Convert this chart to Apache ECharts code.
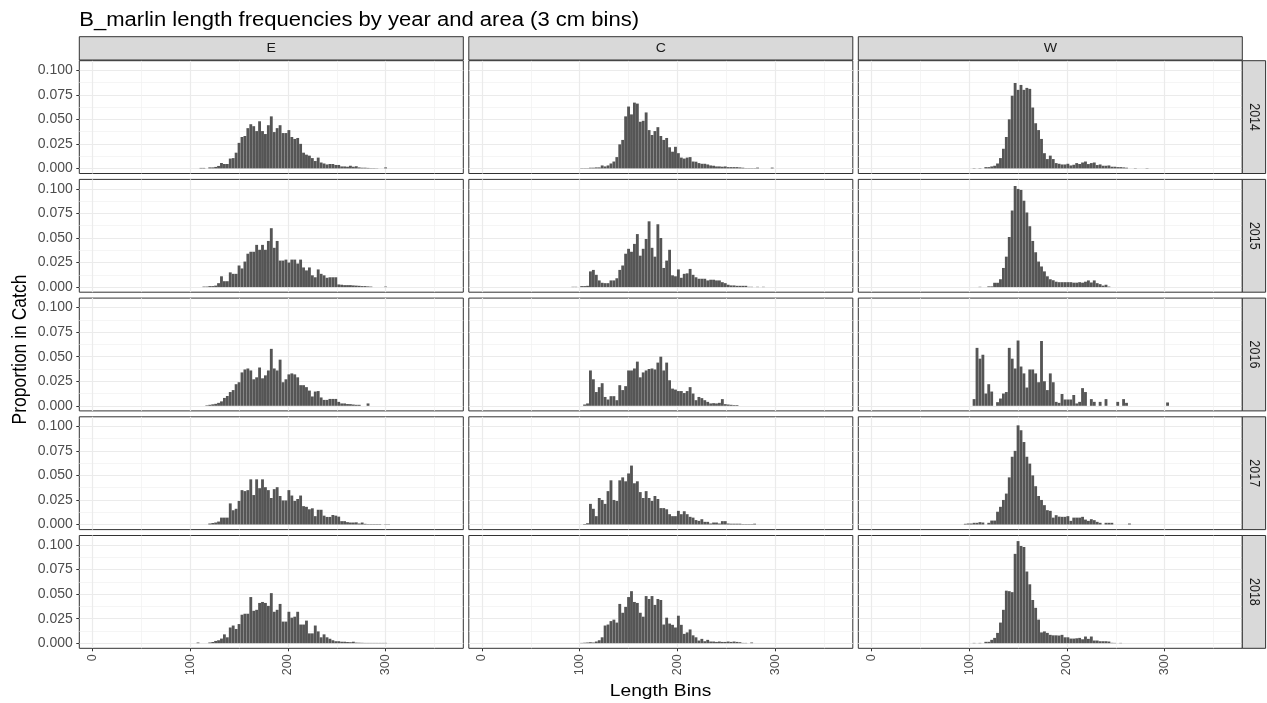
<!DOCTYPE html>
<html>
<head>
<meta charset="utf-8">
<script src="https://cdn.jsdelivr.net/npm/echarts@6/dist/echarts.min.js"></script>
<style>
html,body{margin:0;padding:0;background:#fff;}
#chart{width:1267px;height:703px;}
</style>
</head>
<body>
<div id="chart"></div>
<script>
// ---------------- DATA ----------------
const lengthBins = [90,93,96,99,102,105,108,111,114,117,
  120,123,126,129,132,135,138,141,144,147,
  150,153,156,159,162,165,168,171,174,177,
  180,183,186,189,192,195,198,201,204,207,
  210,213,216,219,222,225,228,231,234,237,
  240,243,246,249,252,255,258,261,264,267,
  270,273,276,279,282,285,288,291,294,297,
  300,303];
const areas = ['E', 'C', 'W'];
const years = ['2014', '2015', '2016', '2017', '2018'];
const yTicks = [0, 0.025, 0.05, 0.075, 0.1];
const yMinorTicks = [0.0125, 0.0375, 0.0625, 0.0875];
const xTicks = [0, 100, 200, 300];
const xMinorTicks = [50, 150, 250, 350];

const E2014 = [0,0,0,0,0,0,0,0.0005,0.0005,0,
  0.001,0.001,0.0015,0.0025,0.0055,0.0045,0.0045,0.010,0.0105,0.016,
  0.026,0.032,0.033,0.041,0.045,0.043,0.038,0.048,0.038,0.035,
  0.044,0.053,0.037,0.041,0.044,0.036,0.036,0.039,0.032,0.030,
  0.031,0.025,0.016,0.014,0.013,0.0105,0.0075,0.011,0.006,0.005,
  0.004,0.0045,0.0045,0.0035,0.0035,0.002,0.002,0.0017,0.0027,0.0017,
  0.0022,0.001,0.0007,0.0007,0.0005,0.0003,0.0003,0.0002,0,0,
  0.001,0];
const E2015 = [0,0,0,0,0,0,0,0,0.0005,0.0005,
  0.001,0.001,0.0015,0.004,0.011,0.006,0.006,0.015,0.0135,0.0135,
  0.022,0.019,0.026,0.034,0.036,0.036,0.043,0.038,0.043,0.038,
  0.047,0.060,0.040,0.047,0.027,0.027,0.028,0.025,0.028,0.028,
  0.024,0.028,0.020,0.017,0.020,0.012,0.010,0.018,0.0135,0.012,
  0.0095,0.010,0.010,0.010,0.0027,0.0024,0.002,0.002,0.002,0.0017,
  0.0015,0.0013,0.001,0.001,0.0007,0.0005,0,0,0,0,
  0.0005,0];
const E2016 = [0,0,0,0,0,0,0,0,0,0.0005,
  0.001,0.0015,0.002,0.003,0.0045,0.008,0.010,0.014,0.016,0.022,
  0.024,0.034,0.037,0.038,0.036,0.027,0.029,0.039,0.028,0.031,
  0.036,0.058,0.038,0.036,0.047,0.024,0.027,0.032,0.033,0.032,
  0.029,0.021,0.021,0.019,0.0155,0.0095,0.0145,0.015,0.0085,0.006,
  0.006,0.007,0.007,0.007,0.004,0.0024,0.0024,0.0018,0.0017,0.0013,
  0.001,0.001,0,0,0.0024,0,0,0,0,0,
  0,0];
const E2017 = [0,0,0,0,0,0,0,0,0,0,
  0.001,0.0015,0.002,0.003,0.007,0.007,0.007,0.0215,0.0145,0.016,
  0.024,0.035,0.034,0.035,0.046,0.030,0.046,0.037,0.046,0.038,
  0.035,0.027,0.036,0.038,0.029,0.0245,0.0245,0.035,0.0295,0.024,
  0.026,0.0295,0.0187,0.018,0.0155,0.0165,0.0085,0.015,0.015,0.009,
  0.0077,0.0077,0.0097,0.009,0.008,0.0034,0.0034,0.0024,0.002,0.002,
  0.0022,0.001,0.002,0.0007,0.0004,0.0004,0.0004,0.0004,0.0004,0,
  0.0003,0.0003];
const E2018 = [0,0,0,0,0,0,0.0007,0,0,0,
  0.0007,0.0012,0.0023,0.003,0.0047,0.009,0.006,0.016,0.018,0.0145,
  0.0195,0.029,0.030,0.030,0.047,0.033,0.034,0.041,0.042,0.041,
  0.038,0.051,0.032,0.034,0.040,0.022,0.022,0.032,0.026,0.027,
  0.032,0.019,0.019,0.023,0.010,0.010,0.018,0.012,0.006,0.009,
  0.006,0.0045,0.003,0.002,0.002,0.0015,0.0015,0.0012,0.001,0.0015,
  0.0006,0.0005,0.0004,0.0003,0.0003,0.0003,0.0003,0.0003,0.0003,0.0003,
  0.0003,0];

const C2014 = [0,0,0,0,0.0003,0.0003,0.0003,0.0007,0.0007,0.001,
  0.001,0.003,0.002,0.003,0.005,0.007,0.0115,0.0245,0.029,0.053,
  0.063,0.055,0.067,0.066,0.0475,0.0485,0.057,0.039,0.034,0.038,
  0.042,0.033,0.029,0.031,0.0215,0.017,0.022,0.0155,0.011,0.010,
  0.011,0.0115,0.007,0.0068,0.0054,0.0047,0.0047,0.004,0.003,0.0027,
  0.002,0.002,0.0017,0.002,0.0013,0.0013,0.0013,0.0013,0.001,0.0007,
  0.0003,0.0003,0.0003,0.0003,0.0008,0,0,0,0,0.0008,
  0,0];
const C2015 = [0,0.0003,0.0003,0,0.001,0.001,0.0013,0.016,0.0175,0.0125,
  0.0068,0.0044,0.004,0.004,0.0068,0.0068,0.009,0.0175,0.022,0.034,
  0.039,0.036,0.044,0.054,0.032,0.039,0.049,0.067,0.040,0.031,
  0.064,0.050,0.0195,0.027,0.038,0.012,0.011,0.018,0.0095,0.0135,
  0.014,0.0185,0.0125,0.010,0.0085,0.0085,0.0085,0.0068,0.0075,0.0075,
  0.0068,0.0068,0.005,0.004,0.0024,0.0017,0.0017,0.0013,0.0013,0.0013,
  0.0013,0.0003,0.0003,0,0.0003,0,0.0003,0,0,0,
  0,0];
const C2016 = [0,0,0,0,0,0.0013,0.0024,0.036,0.027,0.014,
  0.019,0.023,0.009,0.0064,0.0098,0.0098,0.0057,0.021,0.016,0.020,
  0.036,0.036,0.038,0.045,0.029,0.034,0.036,0.0375,0.038,0.037,
  0.044,0.050,0.036,0.044,0.026,0.0175,0.0165,0.015,0.015,0.013,
  0.015,0.019,0.0125,0.0057,0.009,0.0078,0.0057,0.004,0.0024,0.0027,
  0.0024,0.003,0.0068,0.0017,0.0013,0.001,0.0007,0.0007,0,0,
  0,0,0,0,0,0,0,0,0,0,
  0,0];
const C2017 = [0,0,0,0,0,0.0005,0.0013,0.021,0.016,0.0085,
  0.027,0.025,0.021,0.034,0.045,0.025,0.024,0.045,0.048,0.044,
  0.052,0.060,0.042,0.044,0.033,0.027,0.034,0.027,0.024,0.029,
  0.026,0.0167,0.0167,0.0155,0.0105,0.0085,0.0085,0.0139,0.0105,0.0135,
  0.0105,0.0078,0.007,0.0045,0.0037,0.0054,0.0027,0.0027,0.001,0.002,
  0.002,0.001,0.0034,0.0034,0.001,0.0008,0.0008,0.0008,0.0008,0.0004,
  0.0004,0.0004,0.0004,0.0008,0,0,0,0,0,0,
  0,0];
const C2018 = [0,0,0,0,0.0003,0.0005,0.0007,0.001,0.0007,0.0017,
  0.003,0.006,0.018,0.019,0.0225,0.024,0.021,0.040,0.031,0.037,
  0.047,0.053,0.042,0.041,0.031,0.027,0.048,0.045,0.048,0.039,
  0.045,0.044,0.019,0.026,0.020,0.0187,0.016,0.028,0.0187,0.0095,
  0.011,0.014,0.008,0.006,0.0027,0.0044,0.002,0.0034,0.0017,0.0017,
  0.0013,0.0017,0.0013,0.0013,0.0017,0.0013,0.0017,0.0013,0.001,0.0003,
  0.0003,0,0.0007,0,0,0,0,0,0,0,
  0,0];

const W2014 = [0,0,0,0,0,0.0003,0,0.0003,0,0.0013,
  0.0013,0.002,0.0027,0.005,0.0105,0.020,0.032,0.050,0.074,0.087,
  0.080,0.085,0.080,0.082,0.081,0.062,0.046,0.039,0.030,0.0155,
  0.0095,0.013,0.0095,0.0054,0.0047,0.004,0.004,0.0047,0.003,0.0037,
  0.0054,0.0045,0.006,0.007,0.0044,0.0054,0.006,0.0034,0.004,0.0027,
  0.0027,0.003,0.0017,0.0017,0.0013,0.0013,0.001,0.0007,0,0,
  0.0003,0,0,0,0.0003,0,0,0,0,0,
  0,0];
const W2015 = [0,0,0,0,0,0,0,0.0003,0,0,
  0.0007,0.0007,0.0044,0.0044,0.008,0.0195,0.031,0.051,0.078,0.103,
  0.100,0.099,0.088,0.076,0.062,0.047,0.0355,0.026,0.021,0.016,
  0.011,0.008,0.007,0.0055,0.005,0.005,0.005,0.005,0.005,0.0045,
  0.0045,0.005,0.0045,0.0055,0.0068,0.0047,0.0068,0.004,0.003,0.0015,
  0.0024,0.0005,0,0,0,0,0,0,0,0,
  0,0,0,0,0,0,0,0,0,0,
  0,0];
const W2016 = [0,0,0,0,0,0.0068,0.059,0.048,0.052,0.0125,
  0.022,0.0145,0,0.0037,0.0074,0.0125,0.014,0.059,0.048,0.038,
  0.0665,0.040,0.033,0.0186,0.037,0.037,0.033,0.024,0.066,0.025,
  0.016,0.033,0.024,0.004,0.003,0.012,0.0064,0.0064,0.0064,0.011,
  0.0024,0.004,0.018,0.014,0,0.0068,0.004,0,0.004,0,
  0.0068,0,0,0,0.004,0,0.0068,0.003,0,0,
  0,0,0,0,0,0,0,0,0,0,
  0,0.0034];
const W2017 = [0,0,0.0007,0.001,0.001,0.0017,0.0017,0.0024,0.002,0,
  0.0017,0.004,0.004,0.013,0.018,0.025,0.0315,0.048,0.069,0.075,
  0.101,0.096,0.084,0.069,0.062,0.050,0.039,0.029,0.025,0.0197,
  0.0146,0.0139,0.007,0.0095,0.008,0.0078,0.0078,0.0085,0.0037,0.007,
  0.007,0.007,0.0078,0.005,0.0037,0.0054,0.0044,0.0027,0.0017,0,
  0.0017,0.0017,0.0017,0,0,0,0,0,0.001,0,
  0,0,0,0,0,0,0,0,0,0,
  0,0];
const W2018 = [0,0,0,0,0,0.0003,0,0.0003,0,0.0014,
  0.0014,0.0034,0.0054,0.0105,0.021,0.034,0.0535,0.053,0.052,0.091,
  0.104,0.099,0.098,0.073,0.060,0.044,0.036,0.024,0.011,0.012,
  0.0105,0.0085,0.008,0.008,0.0078,0.0085,0.006,0.006,0.0047,0.0047,
  0.005,0.0054,0.004,0.0068,0.0044,0.0068,0.0027,0.0027,0.002,0.002,
  0.002,0.0017,0.0004,0.0003,0,0.0003,0,0,0,0,
  0,0,0,0,0,0,0,0,0,0,
  0,0];

// panel lookup (rows = years, cols = areas)
const panels = [
  [E2014, C2014, W2014],
  [E2015, C2015, W2015],
  [E2016, C2016, W2016],
  [E2017, C2017, W2017],
  [E2018, C2018, W2018]
];

// ---------------- LAYOUT ----------------
const colLeft = [79.3, 468.8, 858.3];
const panelW = 384;
const rowTop = [60.7, 179.4, 298.1, 416.8, 535.5];
const panelH = 112.8;
const stripTop = 36.7, stripH = 23.3;
const rightStripX = 1242.3, rightStripW = 23.3;
const X_MIN = -13.5, X_MAX = 379.5;
const Y_MIN = -0.0052, Y_MAX = 0.1097;
const FONT = '"Liberation Sans", Arial, Helvetica, sans-serif';
const STRETCH = 1.13;

const grids = [], xAxes = [], yAxes = [], series = [];
years.forEach((yr, r) => {
  areas.forEach((ar, c) => {
    const gi = grids.length;
    grids.push({
      left: colLeft[c], top: rowTop[r], width: panelW, height: panelH,
      show: true, backgroundColor: '#ffffff', borderColor: '#333333', borderWidth: 1,
      containLabel: false
    });
    const bottomRow = r === years.length - 1;
    const leftCol = c === 0;
    // minor x grid lines
    xAxes.push({
      type: 'value', gridIndex: gi, min: X_MIN, max: X_MAX, position: 'bottom',
      axisLine: {show: false, onZero: false}, axisLabel: {show: false},
      axisTick: {show: false, customValues: xMinorTicks},
      splitLine: {show: true, lineStyle: {color: '#F1F1F1', width: 0.7}}
    });
    // major x axis
    xAxes.push({
      type: 'value', gridIndex: gi, min: X_MIN, max: X_MAX, position: 'bottom',
      axisLine: {show: false, onZero: false},
      axisTick: {show: bottomRow, length: 3, lineStyle: {color: '#333333', width: 1}, customValues: xTicks},
      axisLabel: {show: bottomRow, customValues: xTicks, rotate: 90, margin: 6,
        fontSize: 12.5, color: '#4D4D4D', fontFamily: FONT,
        formatter: v => String(Math.round(v))},
      splitLine: {show: true, lineStyle: {color: '#EBEBEB', width: 1.2}}
    });
    // minor y grid lines
    yAxes.push({
      type: 'value', gridIndex: gi, min: Y_MIN, max: Y_MAX, position: 'left',
      axisLine: {show: false, onZero: false}, axisLabel: {show: false},
      axisTick: {show: false, customValues: yMinorTicks},
      splitLine: {show: true, lineStyle: {color: '#F1F1F1', width: 0.7}}
    });
    // major y axis
    yAxes.push({
      type: 'value', gridIndex: gi, min: Y_MIN, max: Y_MAX, position: 'left',
      axisLine: {show: false, onZero: false},
      axisTick: {show: leftCol, length: 3, lineStyle: {color: '#333333', width: 1}, customValues: yTicks},
      axisLabel: {show: leftCol, customValues: yTicks, margin: 6.5,
        fontSize: 14, color: '#4D4D4D', fontFamily: FONT,
        formatter: v => v.toFixed(3)},
      splitLine: {show: true, lineStyle: {color: '#EBEBEB', width: 1.2}}
    });
    const vals = panels[r][c];
    series.push({
      type: 'bar', name: ar + ' ' + yr,
      xAxisIndex: 2 * gi + 1, yAxisIndex: 2 * gi + 1,
      data: lengthBins.map((b, i) => [b, vals[i]]),
      barWidth: 2.85,
      itemStyle: {color: '#555555'},
      silent: true, animation: false
    });
  });
});

// strips & texts
const graphics = [];
graphics.push({
  type: 'text', x: 79.3, y: 20.6, z: 20, scaleX: STRETCH,
  style: {text: 'B_marlin length frequencies by year and area (3 cm bins)',
    font: '19.5px ' + FONT, fill: '#000000', textAlign: 'left', textVerticalAlign: 'middle',
    align: 'left', verticalAlign: 'middle'}
});
areas.forEach((ar, c) => {
  graphics.push({
    type: 'rect', z: 20,
    shape: {x: colLeft[c], y: stripTop, width: panelW, height: stripH},
    style: {fill: '#D9D9D9', stroke: '#333333', lineWidth: 1}
  });
  graphics.push({
    type: 'text', z: 21, x: colLeft[c] + panelW / 2, y: stripTop + stripH / 2, scaleX: STRETCH,
    style: {text: ar, font: '12.5px ' + FONT, fill: '#1A1A1A',
      textAlign: 'center', textVerticalAlign: 'middle', align: 'center', verticalAlign: 'middle'}
  });
});
years.forEach((yr, r) => {
  graphics.push({
    type: 'rect', z: 20,
    shape: {x: rightStripX, y: rowTop[r], width: rightStripW, height: panelH},
    style: {fill: '#D9D9D9', stroke: '#333333', lineWidth: 1}
  });
  graphics.push({
    type: 'text', z: 21, x: rightStripX + rightStripW / 2, y: rowTop[r] + panelH / 2,
    rotation: -Math.PI / 2, scaleY: STRETCH,
    style: {text: yr, font: '12.5px ' + FONT, fill: '#1A1A1A',
      textAlign: 'center', textVerticalAlign: 'middle', align: 'center', verticalAlign: 'middle'}
  });
});
graphics.push({
  type: 'text', z: 20, x: 660.5, y: 691.5, scaleX: STRETCH,
  style: {text: 'Length Bins', font: '17px ' + FONT, fill: '#000000',
    textAlign: 'center', textVerticalAlign: 'middle', align: 'center', verticalAlign: 'middle'}
});
graphics.push({
  type: 'text', z: 20, x: 20.8, y: 349.5, rotation: Math.PI / 2, scaleY: STRETCH,
  style: {text: 'Proportion in Catch', font: '17.5px ' + FONT, fill: '#000000',
    textAlign: 'center', textVerticalAlign: 'middle', align: 'center', verticalAlign: 'middle'}
});

const chart = echarts.init(document.getElementById('chart'), null, {renderer: 'canvas'});
chart.setOption({
  backgroundColor: '#ffffff',
  animation: false,
  grid: grids,
  xAxis: xAxes,
  yAxis: yAxes,
  series: series,
  graphic: {elements: graphics}
});
</script>
</body>
</html>
